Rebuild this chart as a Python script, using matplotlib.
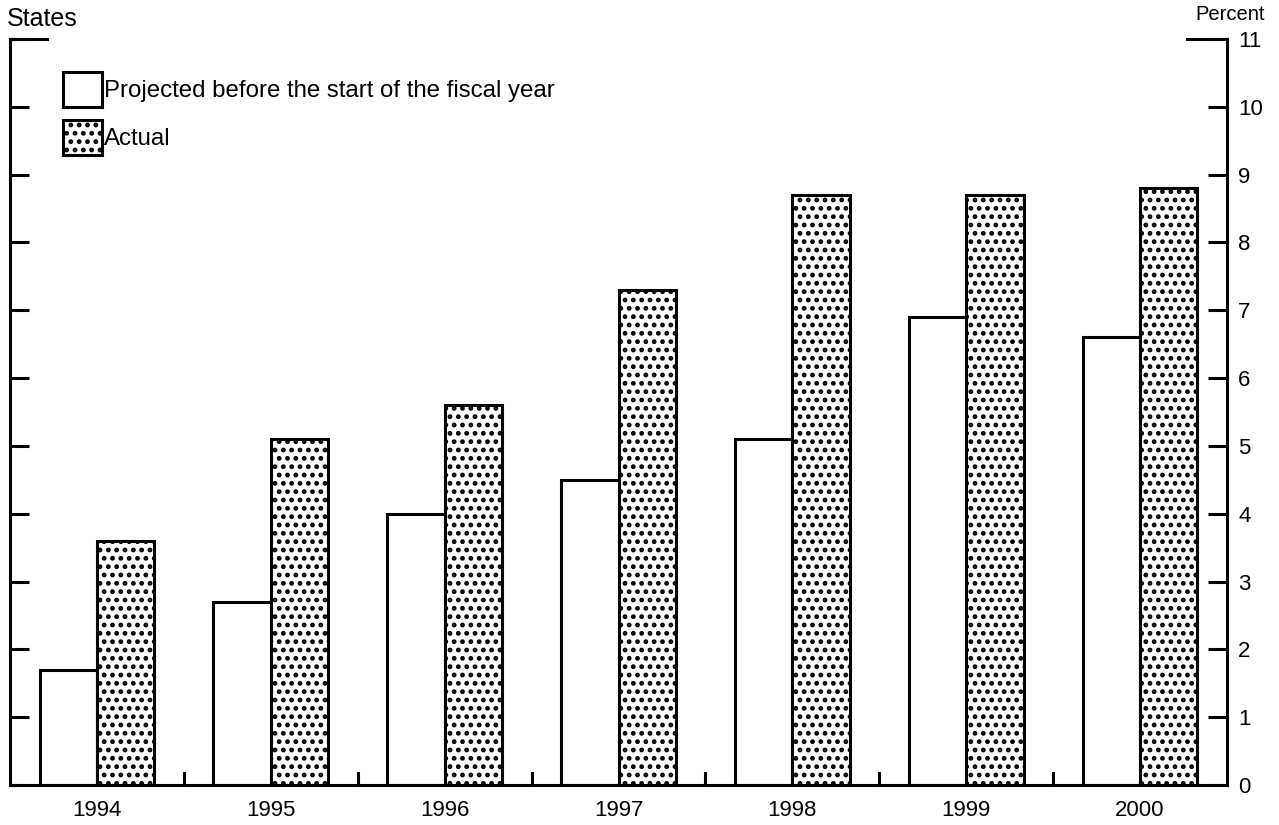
import matplotlib
matplotlib.use("Agg")
import matplotlib.pyplot as plt
import numpy as np
from matplotlib.patches import Patch

plt.rcParams['font.family'] = ['Liberation Sans', 'DejaVu Sans']
plt.rcParams['hatch.linewidth'] = 2.2

years = ["1994", "1995", "1996", "1997", "1998", "1999", "2000"]
projected = [1.7, 2.7, 4.0, 4.5, 5.1, 6.9, 6.6]
actual = [3.6, 5.1, 5.6, 7.3, 8.7, 8.7, 8.8]
right_ticks = list(range(0, 12))
legend_labels = ["Projected before the start of the fiscal year", "Actual"]

LW = 2.2
fig = plt.figure(figsize=(12.79, 8.25), dpi=100)
ax = fig.add_axes([10/1279, 1 - 785/825, 1217/1279, (785 - 39)/825])

x = np.arange(len(years)) + 0.5
w = 0.33
ax.bar(x - w/2, projected, width=w, facecolor="white", edgecolor="black",
       linewidth=LW, zorder=2)
ax.bar(x + w/2, actual, width=w, facecolor="white", edgecolor="black",
       linewidth=LW, hatch="..", zorder=2)

ax.set_xlim(0, len(years))
ax.set_ylim(0, 11)

ax.spines["top"].set_visible(False)
for s in ("left", "right", "bottom"):
    ax.spines[s].set_linewidth(LW)

# year labels under each group, separator ticks between groups
ax.set_xticks(x)
ax.set_xticklabels(years, fontsize=16)
ax.tick_params(axis="x", length=0, pad=11)
for b in range(1, len(years)):
    ax.plot([b, b], [0, 0.18], color="black", lw=LW, zorder=3, clip_on=False)

# left side: ticks only; right side: labelled percent scale
ax.set_yticks(right_ticks)
ax.tick_params(axis="y", left=True, right=True, labelleft=False, labelright=True,
               direction="in", length=14, width=LW, labelsize=16, pad=8)
ax.plot([0, 0.21], [11, 11], color="black", lw=LW, clip_on=False, zorder=3)
ax.plot([len(years) - 0.23, len(years)], [11, 11], color="black", lw=LW,
        clip_on=False, zorder=3)

fig.text(7/1279, 1 - 19/825, "States", fontsize=18, ha="left", va="center")
fig.text(1265/1279, 1 - 14/825, "Percent", fontsize=14.5, ha="right", va="center")

handles = [Patch(facecolor="white", edgecolor="black", linewidth=LW),
           Patch(facecolor="white", edgecolor="black", linewidth=LW, hatch="..")]
ax.legend(handles, legend_labels, loc="upper left",
          bbox_to_anchor=(43.5/1217, 1 - 23.5/746), frameon=False, fontsize=17.3,
          handlelength=1.6, handleheight=1.87, handletextpad=0.12, labelspacing=0.54,
          borderaxespad=0)

fig.savefig("out.png", dpi=100)
